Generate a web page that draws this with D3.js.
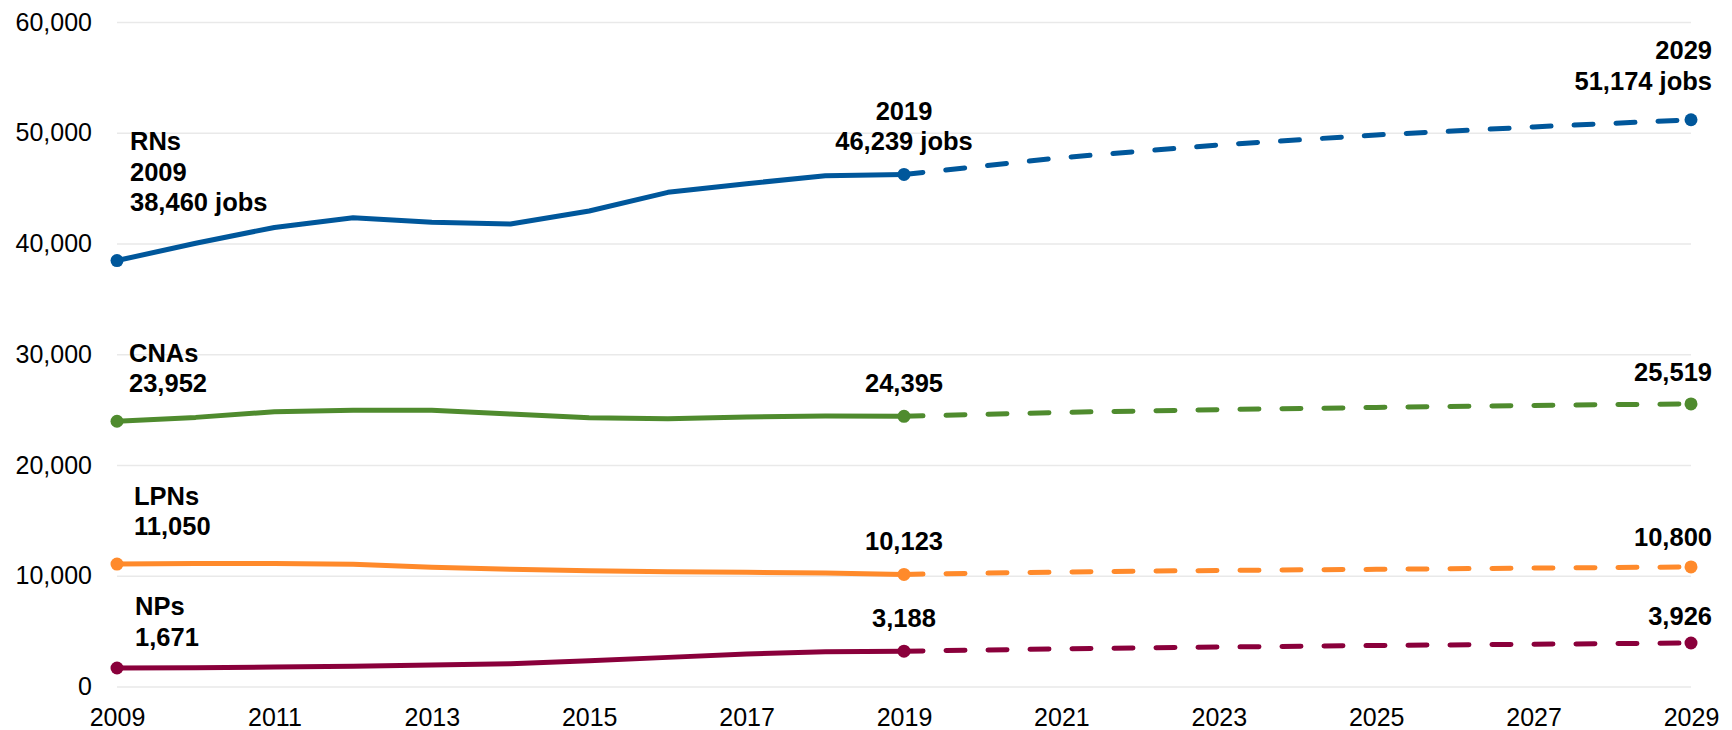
<!DOCTYPE html>
<html>
<head>
<meta charset="utf-8">
<script src="https://cdn.jsdelivr.net/npm/d3@7"></script>
<style>
    body { margin: 0; background: #fff; }
    svg { display: block; font-family: "Liberation Sans", Arial, sans-serif; }
</style>
</head>
<body>
<svg id="chart"></svg>
<script>
const CONSTANTS = {
    WIDTH: 1732,
    HEIGHT: 730,
    LEFT: 117,
    RIGHT: 1691,
    TOP: 22,
    BOTTOM: 686.5,
}

// actual employment, 2009-2019
var years = [2009, 2010, 2011, 2012, 2013, 2014, 2015, 2016, 2017, 2018, 2019];
var rns  = [38460, 40020, 41450, 42330, 41910, 41760, 42930, 44620, 45400, 46120, 46239];
var cnas = [23952, 24300, 24810, 24940, 24940, 24600, 24270, 24180, 24330, 24420, 24395];
var lpns = [11050, 11110, 11100, 11030, 10760, 10580, 10460, 10370, 10310, 10250, 10123];
var nps  = [1671, 1700, 1760, 1820, 1940, 2060, 2330, 2630, 2930, 3140, 3188];

// projections, 2019-2029
var projYears = [2019, 2021, 2023, 2025, 2027, 2029];
var rnsProj  = [46239, 47750, 48900, 49800, 50530, 51174];
var cnasProj = [24395, 24750, 25000, 25200, 25380, 25519];
var lpnsProj = [10123, 10340, 10480, 10580, 10690, 10800];
var npsProj  = [3188, 3400, 3560, 3700, 3820, 3926];

var yTicks = [0, 10000, 20000, 30000, 40000, 50000, 60000];
var xTicks = [2009, 2011, 2013, 2015, 2017, 2019, 2021, 2023, 2025, 2027, 2029];

var names = ["RNs", "CNAs", "LPNs", "NPs"];
var colors = ["#00579b", "#4f8b2e", "#ff8a2b", "#8a003b"];

var startLabels = [["RNs", "2009", "38,460 jobs"], ["CNAs", "23,952"], ["LPNs", "11,050"], ["NPs", "1,671"]];
var midLabels = [["2019", "46,239 jobs"], ["24,395"], ["10,123"], ["3,188"]];
var endLabels = [["2029", "51,174 jobs"], ["25,519"], ["10,800"], ["3,926"]];

var series = [
    { actual: rns, proj: rnsProj },
    { actual: cnas, proj: cnasProj },
    { actual: lpns, proj: lpnsProj },
    { actual: nps, proj: npsProj },
];

// label placement: offset of the last text line above the point, and x nudge
var startLayout = [{ dy: -58, dx: 13 }, { dy: -38, dx: 12 }, { dy: -38, dx: 17 }, { dy: -31, dx: 18 }];
var midDy = [-33, -33, -33, -33];
var endDy = [-39, -32, -30, -27];
var LINE_GAP = 30.5;

var svg = d3.select("#chart")
    .attr("width", CONSTANTS.WIDTH)
    .attr("height", CONSTANTS.HEIGHT);

var x = d3.scaleLinear()
    .domain([2009, 2029])
    .range([CONSTANTS.LEFT, CONSTANTS.RIGHT]);

var y = d3.scaleLinear()
    .domain([0, 60000])
    .range([CONSTANTS.BOTTOM, CONSTANTS.TOP]);

// gridlines + y labels
var yAxis = svg.append("g")
    .attr("transform", "translate(" + CONSTANTS.LEFT + ",0)")
    .call(d3.axisLeft(y)
        .tickValues(yTicks)
        .tickSize(-(CONSTANTS.RIGHT - CONSTANTS.LEFT))
        .tickPadding(25)
        .tickFormat(d3.format(",")));
yAxis.select(".domain").remove();
yAxis.selectAll(".tick line")
    .attr("stroke", "#e9e9e9")
    .attr("stroke-width", 1.5);
yAxis.selectAll(".tick text")
    .attr("fill", "#000")
    .style("font-size", "25px")
    .style("font-family", "'Liberation Sans', Arial, sans-serif");

// x labels
var xAxis = svg.append("g")
    .attr("transform", "translate(0," + CONSTANTS.BOTTOM + ")")
    .call(d3.axisBottom(x)
        .tickValues(xTicks)
        .tickSize(0)
        .tickPadding(22)
        .tickFormat(d3.format("d")));
xAxis.select(".domain").remove();
xAxis.selectAll(".tick text")
    .attr("fill", "#000")
    .style("font-size", "25px")
    .style("font-family", "'Liberation Sans', Arial, sans-serif");

var line = d3.line()
    .x(d => x(d[0]))
    .y(d => y(d[1]));

series.forEach((s, i) => {
    var color = colors[i];
    var actualPts = years.map((yr, j) => [yr, s.actual[j]]);
    var projPts = projYears.map((yr, j) => [yr, s.proj[j]]);

    svg.append("path")
        .datum(projPts)
        .attr("d", line)
        .attr("fill", "none")
        .attr("stroke", color)
        .attr("stroke-width", 5)
        .attr("stroke-linecap", "round")
        .attr("stroke-dasharray", "19,23");

    svg.append("path")
        .datum(actualPts)
        .attr("d", line)
        .attr("fill", "none")
        .attr("stroke", color)
        .attr("stroke-width", 5)
        .attr("stroke-linejoin", "round");

    var dots = [actualPts[0], actualPts[actualPts.length - 1], projPts[projPts.length - 1]];
    svg.append("g")
        .selectAll("circle")
        .data(dots)
        .enter()
        .append("circle")
            .attr("cx", d => x(d[0]))
            .attr("cy", d => y(d[1]))
            .attr("r", 6.5)
            .attr("fill", color);

    // labels
    var addLabel = function(lines, px, py, anchor) {
        var t = svg.append("text")
            .attr("text-anchor", anchor)
            .style("font-size", "25.5px")
            .style("font-weight", "bold")
            .attr("fill", "#000");
        lines.forEach((txt, k) => {
            t.append("tspan")
                .attr("x", px)
                .attr("y", py - (lines.length - 1 - k) * LINE_GAP)
                .attr("dy", "0.35em")
                .text(txt);
        });
    }

    addLabel(startLabels[i], x(actualPts[0][0]) + startLayout[i].dx, y(actualPts[0][1]) + startLayout[i].dy, "start");
    var last = actualPts[actualPts.length - 1];
    addLabel(midLabels[i], x(last[0]), y(last[1]) + midDy[i], "middle");
    var end = projPts[projPts.length - 1];
    addLabel(endLabels[i], x(end[0]) + 21, y(end[1]) + endDy[i], "end");
});
</script>
</body>
</html>
